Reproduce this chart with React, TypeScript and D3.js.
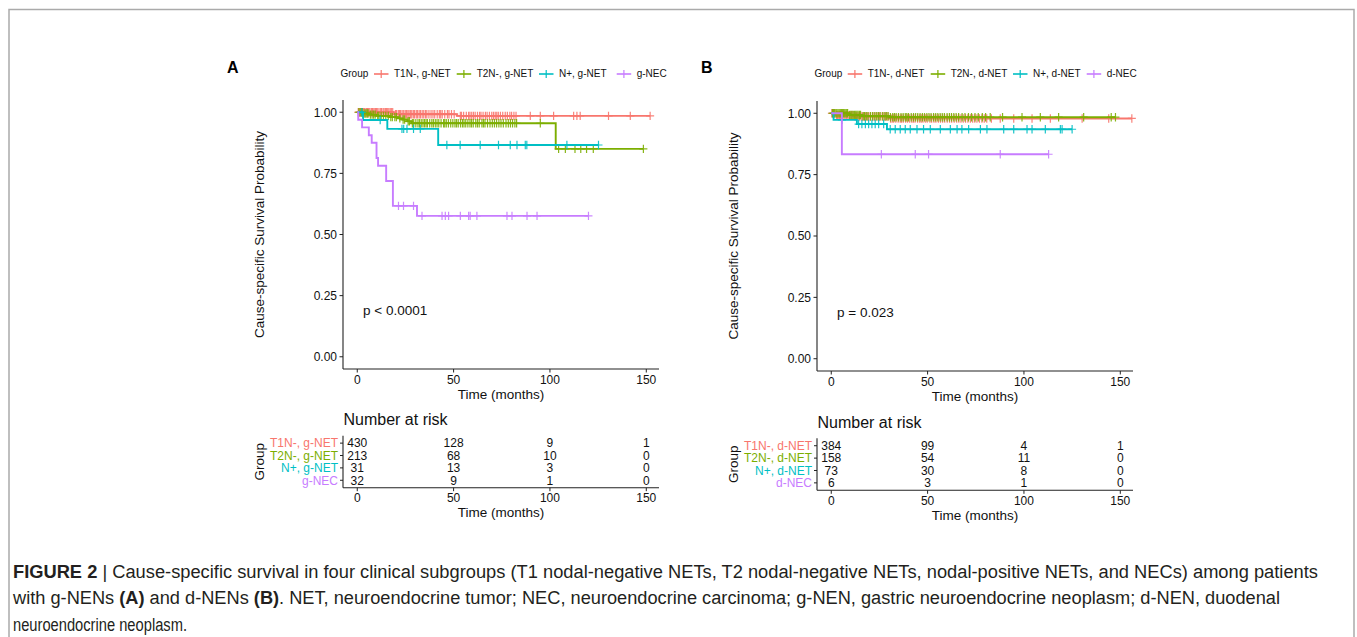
import React from 'react';
import * as d3 from 'd3';

// shared
const timeTicks = [0, 50, 100, 150];
const survTicks = [0, 0.25, 0.5, 0.75, 1];
const groupColors = ['#F8766D', '#7CAE00', '#00BFC4', '#C77CFF'];

// ---- panel A: gastric ----
const gLabels = ['T1N-, g-NET', 'T2N-, g-NET', 'N+, g-NET', 'g-NEC'];

const gT1Steps = [[0, 1], [18.9, 0.992], [51.7, 0.985]];
const gT1End = 152;
const gT1Censor = [0.5, 0.9, 1.2, 1.6, 2, 2.4, 2.8, 3.1, 3.5, 3.9, 4.6, 5, 5.3, 5.7, 6.1, 6.6, 7.4, 7.9, 8.2, 8.8, 9.5,
  9.9, 10.3, 10.8, 11.8, 12.3, 12.6, 13.4, 13.9, 14.6, 15.2, 15.8, 16.4, 17.1, 17.7, 18.4, 19.8, 20.4, 21.3,
  21.9, 22.5, 23.3, 24.1, 24.9, 25.6, 26.3, 26.9, 27.7, 28.3, 29.1, 29.7, 30.6, 31.2, 32.1, 32.8, 33.7, 34.5,
  35.4, 36.1, 37.2, 38.3, 39.3, 40.2, 41.5, 42.6, 43.3, 44.1, 45.4, 46.8, 47.6, 48.9, 50.3, 53.5, 54.1, 55.2,
  56.6, 57.8, 58.5, 59.4, 60.3, 61.2, 62.4, 63.5, 64.2, 65.3, 66.5, 67.4, 68.6, 69.8, 70.7, 71.6, 72.4, 73.2,
  74.3, 75.5, 76.8, 77.9, 79.2, 80.1, 81.3, 82.4, 89.8, 95, 101.9, 112.3, 114, 115.7, 130.4, 141.7, 152];

const gT2Steps = [[0, 1], [3, 0.995], [6, 0.99], [10, 0.985], [17, 0.98], [21, 0.975], [23.5, 0.97], [26, 0.963], [28, 0.955], [103, 0.85]];
const gT2End = 148.5;
const gT2Censor = [0.8, 1.5, 2.2, 2.6, 3.6, 4.4, 5.1, 5.6, 6.8, 7.7, 8.5, 9.3, 10.6, 11.2, 12.4, 13.6, 14.8, 16.1,
  17.4, 18.2, 19.5, 20.3, 22.1, 23.8, 24.6, 26.4, 27.1, 28.6, 29.3, 30.4, 31.5, 32.3, 33.2, 34.1, 34.9, 35.7,
  36.4, 37.6, 38.7, 39.5, 40.5, 41.4, 42.3, 43.5, 44.8, 45.4, 46.2, 47.3, 48.5, 49.6, 50.7, 51.5, 52.4, 53.6,
  54.6, 55.4, 56.3, 57.4, 58.5, 59.3, 60.2, 61.5, 62.4, 63.3, 64.7, 65.5, 66.3, 67.6, 68.9, 70.1, 71.2, 72.3,
  73.5, 74.6, 75.8, 77.2, 78.4, 79.5, 80.6, 81.8, 82.7, 95, 104.5, 108, 113, 116, 119, 122.5, 148.5];

const gNSteps = [[0, 1], [3, 0.968], [15.6, 0.932], [42, 0.866]];
const gNEnd = 125.2;
const gNCensor = [2.4, 11.9, 23.2, 24.1, 25.8, 29.2, 32.7, 46.5, 53.4, 63.8, 73.3, 79.4, 82.9, 87.2, 88, 108.8, 125.2];

const gNecSteps = [[0, 1], [0.5, 0.969], [2.5, 0.938], [6, 0.906], [7.5, 0.875], [10, 0.813], [10.8, 0.781], [15, 0.719], [18.5, 0.617], [31, 0.576]];
const gNecEnd = 120;
const gNecCensor = [21.4, 24, 29.2, 33.6, 44, 45.7, 47.4, 53.5, 57.8, 58.6, 62.1, 77.7, 80.3, 88.1, 93.3, 120];

const gRisk = [[430, 128, 9, 1], [213, 68, 10, 0], [31, 13, 3, 0], [32, 9, 1, 0]];

// ---- panel B: duodenal ----
const dLabels = ['T1N-, d-NET', 'T2N-, d-NET', 'N+, d-NET', 'd-NEC'];

const dT1Steps = [[0, 1], [2, 0.992], [12, 0.987], [30, 0.979]];
const dT1End = 156;
const dT1Censor = [0.3, 0.8, 1.1, 1.7, 2.7, 3.2, 3.6, 4.3, 4.8, 5.4, 5.9, 6.6, 7.2, 7.9, 8.6, 9.2, 9.7, 10.5, 11.3,
  12.4, 13.1, 13.9, 14.6, 15.5, 16.2, 17.1, 17.8, 18.7, 19.5, 20.3, 21.4, 22.2, 23.2, 24.3, 25.1, 26.4, 27.3,
  28.2, 29.4, 30.8, 31.6, 32.4, 33.5, 34.7, 35.8, 36.5, 37.4, 38.6, 39.6, 40.7, 41.8, 42.6, 43.5, 44.8, 45.9,
  46.7, 47.6, 48.8, 49.8, 51.2, 52.1, 53.3, 54.3, 55.6, 56.7, 57.8, 58.9, 60.2, 61.4, 62.5, 63.8, 65.1, 66.2,
  67.3, 68.5, 69.7, 70.9, 72.2, 73.4, 74.5, 75.6, 76.9, 78.2, 79.4, 80.7, 83.1, 87.7, 94.7, 104.2, 113.7, 130.2,
  144, 156];

const dT2Steps = [[0, 1], [9, 0.993], [16, 0.988], [30, 0.984]];
const dT2End = 147.5;
const dT2Censor = [0.6, 1.2, 1.8, 2.4, 2.9, 3.5, 4.1, 4.7, 5.3, 5.8, 6.4, 7, 7.6, 8.1, 8.5, 9.6, 10.2, 10.8, 11.4,
  12.1, 12.7, 13.3, 13.9, 14.6, 15.2, 16.6, 17.3, 18.2, 19.1, 20.4, 21.5, 22.6, 23.6, 24.5, 25.4, 26.7, 27.8,
  28.6, 29.5, 30.7, 31.9, 32.8, 33.7, 34.9, 36.2, 37.3, 38.4, 39.2, 40.1, 41.5, 42.7, 43.8, 44.9, 46.1, 47.3,
  48.4, 49.6, 50.7, 51.8, 53.1, 54.2, 55.3, 56.5, 57.6, 58.7, 60.1, 61.3, 62.4, 63.6, 64.8, 66.1, 67.9, 69.4,
  71.2, 72.8, 74.6, 76.3, 78.4, 80.1, 82.5, 88.9, 99, 108.5, 118, 131, 145.3, 147.5];

const dNSteps = [[0, 1], [1.2, 0.973], [13.3, 0.956], [28.9, 0.935]];
const dNEnd = 125;
const dNCensor = [5.5, 14.2, 15.9, 17.7, 19.4, 21.1, 22.8, 24.6, 27.2, 30.6, 33.2, 35.8, 38.4, 41, 44.5, 47.9, 51.4,
  56.6, 61.8, 65.3, 67.8, 71.3, 77.4, 80.8, 89.5, 94.7, 101.6, 104.2, 111.1, 118.9, 119.8, 125];

const dNecSteps = [[0, 1], [5.5, 0.833]];
const dNecEnd = 112.8;
const dNecCensor = [26, 43.6, 50.5, 87.7, 112.8];

const dRisk = [[384, 99, 4, 1], [158, 54, 11, 0], [73, 30, 8, 0], [6, 3, 1, 0]];

const FONT = "'Liberation Sans', Arial, sans-serif";
const CAPTION_FONT = "'Liberation Sans Narrow', 'Arial Narrow', 'Liberation Sans', sans-serif";

const survAt = (steps, t) => {
  let s = steps[0][1];
  for (const [tt, v] of steps) if (tt <= t) s = v;
  return s;
};

const Panel = ({ letter, labels, curves, risk, pText, left, right, top, bottom, tTop, tBottom, legendKeys }) => {
  const x = d3.scaleLinear().domain([-7.4, 156.6]).range([left, right]);
  const y = d3.scaleLinear().domain([-0.05, 1.05]).range([bottom, top]);
  const ty = d3.scalePoint().domain(labels).range([tTop, tBottom]).padding(0.6);
  const line = d3.line().x(d => x(d[0])).y(d => y(d[1])).curve(d3.curveStepAfter);
  const ink = '#111';

  return (
    <g fontFamily={FONT}>
      <text x={left - 116} y={72.7} fontSize={16} fontWeight="bold" fill="#000">{letter}</text>

      {/* legend */}
      <text x={left - 2.5} y={77.3} fontSize={10} fill={ink}>Group</text>
      {labels.map((lab, i) => (
        <g key={lab}>
          <line x1={left + legendKeys[i]} x2={left + legendKeys[i] + 14.5} y1={74} y2={74} stroke={groupColors[i]} strokeWidth={1.6} />
          <line x1={left + legendKeys[i] + 7.2} x2={left + legendKeys[i] + 7.2} y1={70} y2={78} stroke={groupColors[i]} strokeWidth={1.2} />
          <text x={left + legendKeys[i] + 20} y={77.3} fontSize={10} fill={ink}>{lab}</text>
        </g>
      ))}

      {/* survival axes */}
      <line x1={left} x2={left} y1={top} y2={bottom} stroke="#222" strokeWidth={1.1} />
      <line x1={left} x2={right} y1={bottom} y2={bottom} stroke="#222" strokeWidth={1.1} />
      {survTicks.map(v => (
        <g key={v}>
          <line x1={left - 3.5} x2={left} y1={y(v)} y2={y(v)} stroke="#222" />
          <text x={left - 6} y={y(v) + 4.3} fontSize={12} textAnchor="end" fill={ink}>{d3.format('.2f')(v)}</text>
        </g>
      ))}
      {timeTicks.map(t => (
        <g key={t}>
          <line x1={x(t)} x2={x(t)} y1={bottom} y2={bottom + 3.5} stroke="#222" />
          <text x={x(t)} y={bottom + 15} fontSize={12} textAnchor="middle" fill={ink}>{t}</text>
        </g>
      ))}
      <text x={(left + right) / 2} y={bottom + 30} fontSize={13.5} textAnchor="middle" fill={ink}>Time (months)</text>
      <text transform={`translate(${left - 79},${(top + bottom) / 2}) rotate(-90)`} fontSize={13.5} textAnchor="middle" fill={ink}>
        Cause-specific Survival Probability
      </text>

      {/* curves */}
      {curves.map((c, i) => {
        const pts = [...c.steps, [c.end, c.steps[c.steps.length - 1][1]]];
        return (
          <g key={i} stroke={groupColors[i]} fill="none">
            <path d={line(pts)} strokeWidth={1.9} />
            {c.censor.map((t, j) => {
              const cx = x(t), cy = y(survAt(c.steps, t));
              return <path key={j} d={`M${cx - 4},${cy}h8M${cx},${cy - 4.2}v8.4`} strokeWidth={1.2} strokeOpacity={0.9} />;
            })}
          </g>
        );
      })}

      <text x={x(3)} y={y(0.17)} fontSize={13.5} fill={ink}>{pText}</text>

      {/* risk table */}
      <text x={left + 0.5} y={tTop - 10.5} fontSize={16} fill={ink}>Number at risk</text>
      <line x1={left} x2={left} y1={tTop} y2={tBottom} stroke="#222" strokeWidth={1.1} />
      <line x1={left} x2={right} y1={tBottom} y2={tBottom} stroke="#222" strokeWidth={1.1} />
      {labels.map((lab, i) => (
        <g key={lab}>
          <line x1={left - 3} x2={left} y1={ty(lab)} y2={ty(lab)} stroke="#222" />
          <text x={left - 5} y={ty(lab) + 4.3} fontSize={12} textAnchor="end" fill={groupColors[i]}>{lab}</text>
          {risk[i].map((n, j) => (
            <text key={j} x={x(timeTicks[j])} y={ty(lab) + 4.3} fontSize={12} textAnchor="middle" fill={ink}>{n}</text>
          ))}
        </g>
      ))}
      {timeTicks.map(t => (
        <g key={t}>
          <line x1={x(t)} x2={x(t)} y1={tBottom} y2={tBottom + 3.5} stroke="#222" />
          <text x={x(t)} y={tBottom + 14.5} fontSize={12} textAnchor="middle" fill={ink}>{t}</text>
        </g>
      ))}
      <text x={(left + right) / 2} y={tBottom + 29.5} fontSize={13.5} textAnchor="middle" fill={ink}>Time (months)</text>
      <text transform={`translate(${left - 79},${(tTop + tBottom) / 2}) rotate(-90)`} fontSize={13.5} textAnchor="middle" fill={ink}>Group</text>
    </g>
  );
};

export default function App() {
  const gCurves = [
    { steps: gT1Steps, end: gT1End, censor: gT1Censor },
    { steps: gT2Steps, end: gT2End, censor: gT2Censor },
    { steps: gNSteps, end: gNEnd, censor: gNCensor },
    { steps: gNecSteps, end: gNecEnd, censor: gNecCensor },
  ];
  const dCurves = [
    { steps: dT1Steps, end: dT1End, censor: dT1Censor },
    { steps: dT2Steps, end: dT2End, censor: dT2Censor },
    { steps: dNSteps, end: dNEnd, censor: dNCensor },
    { steps: dNecSteps, end: dNecEnd, censor: dNecCensor },
  ];
  return (
    <div style={{ position: 'absolute', left: 0, top: 0 }}>
      <svg width={1357} height={637} style={{ display: 'block', background: '#fff' }}>
        <rect x={9} y={9.5} width={1345} height={700} fill="none" stroke="#aaa" strokeWidth={1.5} />
        <Panel letter="A" labels={gLabels} curves={gCurves} risk={gRisk} pText="p < 0.0001"
          left={343} right={659} top={100} bottom={369} tTop={435.7} tBottom={487.7}
          legendKeys={[31, 113.7, 196, 273.7]} />
        <Panel letter="B" labels={dLabels} curves={dCurves} risk={dRisk} pText="p = 0.023"
          left={817} right={1133} top={101} bottom={371} tTop={438.3} tBottom={490.3}
          legendKeys={[30.7, 113.7, 196, 269.7]} />
        <g fontFamily={CAPTION_FONT} fontSize={18} fill="#231f20">
          <text x={13} y={577.5} textLength={1305} lengthAdjust="spacingAndGlyphs">
            <tspan fontWeight="bold">FIGURE 2</tspan> | Cause-specific survival in four clinical subgroups (T1 nodal-negative NETs, T2 nodal-negative NETs, nodal-positive NETs, and NECs) among patients
          </text>
          <text x={13} y={604} textLength={1267} lengthAdjust="spacingAndGlyphs">
            with g-NENs <tspan fontWeight="bold">(A)</tspan> and d-NENs <tspan fontWeight="bold">(B)</tspan>. NET, neuroendocrine tumor; NEC, neuroendocrine carcinoma; g-NEN, gastric neuroendocrine neoplasm; d-NEN, duodenal
          </text>
          <text x={13} y={630.5} textLength={174} lengthAdjust="spacingAndGlyphs">neuroendocrine neoplasm.</text>
        </g>
      </svg>
    </div>
  );
}
